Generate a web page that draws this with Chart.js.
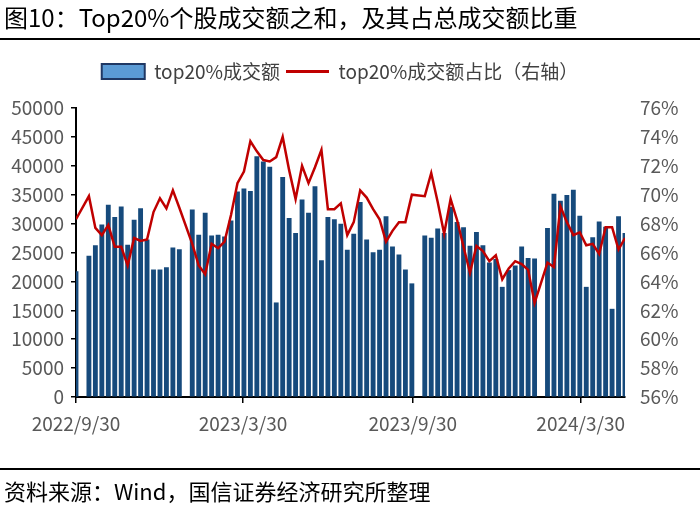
<!DOCTYPE html>
<html>
<head>
<meta charset="utf-8">
<script src="https://cdn.jsdelivr.net/npm/chart.js@4/dist/chart.umd.min.js"></script>
<style>
  html, body { margin: 0; padding: 0; background: #fff; }
  #wrap { position: relative; width: 700px; height: 506px; overflow: hidden; background: #fff; }
  .txt { position: absolute; font-family: 'Noto Sans CJK SC', sans-serif; color: #000; white-space: nowrap; }
  .rule { position: absolute; left: 0; width: 700px; height: 1.5px; background: #000; }
  canvas { position: absolute; left: 0; top: 0; }
</style>
</head>
<body>
<div id="wrap">
  <canvas id="c" width="700" height="506"></canvas>
  <div class="txt" style="left:4px;top:2px;font-size:24px;line-height:30px;">图10：Top20%个股成交额之和，及其占总成交额比重</div>
  <div class="rule" style="top:38px;"></div>
  <div class="rule" style="top:468px;"></div>
  <div class="txt" style="left:4px;top:476px;font-size:22px;line-height:28px;">资料来源：Wind，国信证券经济研究所整理</div>
</div>
<script>
const weeks = [
  '2022-09-30','2022-10-07','2022-10-14','2022-10-21','2022-10-28','2022-11-04','2022-11-11','2022-11-18','2022-11-25','2022-12-02',
  '2022-12-09','2022-12-16','2022-12-23','2022-12-30','2023-01-06','2023-01-13','2023-01-20','2023-01-27','2023-02-03','2023-02-10',
  '2023-02-17','2023-02-24','2023-03-03','2023-03-10','2023-03-17','2023-03-24','2023-03-31','2023-04-07','2023-04-14','2023-04-21',
  '2023-04-28','2023-05-05','2023-05-12','2023-05-19','2023-05-26','2023-06-02','2023-06-09','2023-06-16','2023-06-23','2023-06-30',
  '2023-07-07','2023-07-14','2023-07-21','2023-07-28','2023-08-04','2023-08-11','2023-08-18','2023-08-25','2023-09-01','2023-09-08',
  '2023-09-15','2023-09-22','2023-09-29','2023-10-06','2023-10-13','2023-10-20','2023-10-27','2023-11-03','2023-11-10','2023-11-17',
  '2023-11-24','2023-12-01','2023-12-08','2023-12-15','2023-12-22','2023-12-29','2024-01-05','2024-01-12','2024-01-19','2024-01-26',
  '2024-02-02','2024-02-09','2024-02-16','2024-02-23','2024-03-01','2024-03-08','2024-03-15','2024-03-22','2024-03-29','2024-04-05',
  '2024-04-12','2024-04-19','2024-04-26','2024-05-03','2024-05-10','2024-05-17'
];

// top20% 成交额（左轴）
const turnover = [
  21700, null, 24400, 26200, 29800, 33200, 31100, 32900, 26300, 30600,
  32600, 27200, 22000, 22000, 22400, 25800, 25500, null, 32400, 28000,
  31800, 27900, 28000, 27700, 30500, 35500, 36000, 35600, 41600, 40700,
  39800, 16300, 38000, 30900, 28300, 34100, 31800, 36400, 23600, 31100,
  30700, 29900, 25400, 28200, 33700, 27200, 25000, 25400, 31200, 26000,
  24600, 22000, 19600, null, 27900, 27500, 29100, 28300, 32800, 30200,
  29300, 26100, 28500, 26200, 23200, 23800, 19000, 21900, 22700, 26000,
  24000, 23900, null, 29200, 35100, 33900, 34900, 35800, 31300, 19000,
  27600, 30300, 29400, 15200, 31200, 28300
];

// top20% 成交额占比 %（右轴）
const sharePct = [
  68.3, null, 69.9, 67.7, 67.2, 67.9, 66.4, 66.4, 65.1, 67.0,
  66.8, 66.9, 68.8, 69.75, 69.05, 70.3, 69.1, null, 66.6, 65.1,
  64.5, 66.6, 66.3, 66.75, 68.6, 70.8, 71.6, 73.7, 73.0, 72.4,
  72.3, 72.6, 74.0, 71.7, 69.7, 72.0, 70.8, 71.9, 73.1, 69.0,
  69.0, 69.4, 67.2, 68.1, 70.3, 69.8, 69.0, 68.3, 66.75, 67.5,
  68.1, 68.1, 70.0, null, 69.9, 71.5, 69.5, 67.3, 69.7, 68.25,
  66.4, 64.6, 66.45, 66.1, 65.4, 65.8, 64.15, 64.9, 65.4, 65.2,
  64.8, 62.5, null, 65.3, 65.0, 69.2, 68.1, 67.2, 67.4, 66.5,
  66.6, 65.9, 67.75, 67.75, 66.2, 67.0
];

const xTickLabels = ['2022/9/30', '2023/3/30', '2023/9/30', '2024/3/30'];
const seriesNames = ['top20%成交额', 'top20%成交额占比（右轴）'];

const toDay = s => { const [y, m, d] = s.split(/[-\/]/).map(Number); return Date.UTC(y, m - 1, d) / 864e5; };
const day0 = toDay(weeks[0]);
const xs = weeks.map(w => toDay(w) - day0);

const BAR = '#164a7c';
const LINE = '#c00000';
const TICK = '#595959';
const FONT = "'Noto Sans CJK SC', sans-serif";

Chart.defaults.font.family = FONT;

const legendHeight = {
  id: 'legendHeight',
  beforeInit(chart) {
    const orig = chart.legend.fit;
    chart.legend.fit = function () { orig.call(this); this.height = 52; };
  }
};

new Chart(document.getElementById('c'), {
  data: {
    datasets: [
      {
        type: 'bar',
        label: seriesNames[0],
        data: xs.map((x, i) => ({ x, y: turnover[i] })),
        backgroundColor: BAR,
        borderWidth: 0,
        barThickness: 4.2,
        yAxisID: 'y',
        clip: 0,
        order: 2
      },
      {
        type: 'line',
        label: seriesNames[1],
        data: xs.map((x, i) => ({ x, y: sharePct[i] })),
        borderColor: LINE,
        borderWidth: 2.5,
        pointRadius: 0,
        tension: 0,
        spanGaps: true,
        fill: false,
        yAxisID: 'y1',
        order: 1
      }
    ]
  },
  options: {
    responsive: false,
    animation: false,
    events: [],
    layout: { padding: { top: 56, right: 20, bottom: 59, left: 0 } },
    plugins: {
      tooltip: { enabled: false },
      title: { display: false },
      legend: {
        display: true,
        position: 'top',
        labels: {
          usePointStyle: true,
          pointStyleWidth: 43,
          boxHeight: 15,
          padding: 6,
          color: '#404040',
          font: { size: 19, family: FONT },
          generateLabels: () => [
            { text: seriesNames[0], fillStyle: '#5b9bd5', strokeStyle: '#1f3864', lineWidth: 2, pointStyle: 'rect', datasetIndex: 0, fontColor: '#404040' },
            { text: seriesNames[1], fillStyle: LINE, strokeStyle: LINE, lineWidth: 3, pointStyle: 'line', datasetIndex: 1, fontColor: '#404040' }
          ]
        }
      }
    },
    scales: {
      x: {
        type: 'linear',
        offset: false,
        min: 0,
        max: xs[xs.length - 1],
        afterFit: s => { s.height = 50; },
        afterBuildTicks: s => { s.ticks = xTickLabels.map(t => ({ value: toDay(t) - day0 })); },
        ticks: {
          autoSkip: false,
          maxRotation: 0,
          padding: 9,
          color: TICK,
          font: { size: 19 },
          callback: (v, i) => xTickLabels[i]
        },
        grid: { offset: false, drawOnChartArea: false, drawTicks: true, tickLength: 6, color: '#000', lineWidth: 1.5 },
        border: { display: true, color: '#000', width: 2 }
      },
      y: {
        type: 'linear',
        position: 'left',
        min: 0,
        max: 50000,
        afterFit: s => { s.width = 76; },
        ticks: { stepSize: 5000, padding: 7, color: TICK, font: { size: 19 }, callback: v => String(v) },
        grid: { drawOnChartArea: false, drawTicks: true, tickLength: 5, color: '#000', lineWidth: 1.5 },
        border: { display: true, color: '#000', width: 2 }
      },
      y1: {
        type: 'linear',
        position: 'right',
        min: 56,
        max: 76,
        afterFit: s => { s.width = 55; },
        ticks: { stepSize: 2, padding: 7, color: TICK, font: { size: 19 }, callback: v => v + '%' },
        grid: { display: false, drawOnChartArea: false },
        border: { display: false }
      }
    }
  },
  plugins: [legendHeight]
});
</script>
</body>
</html>
